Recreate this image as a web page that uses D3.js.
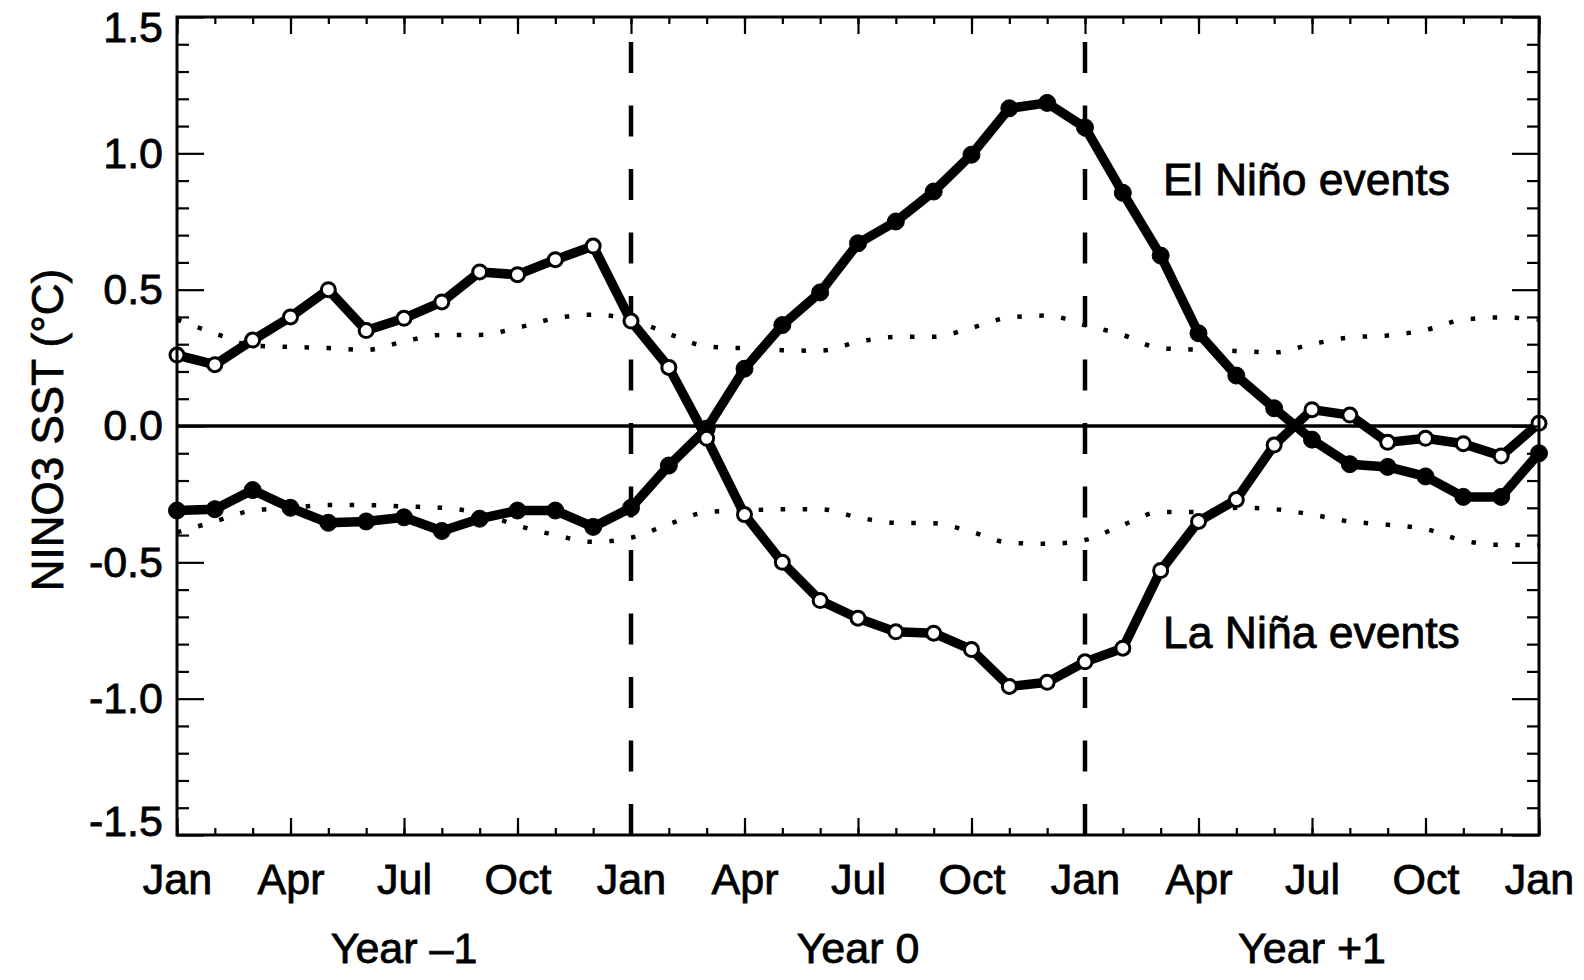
<!DOCTYPE html>
<html>
<head>
<meta charset="utf-8">
<script src="https://cdn.jsdelivr.net/npm/d3@7"></script>
<style>
  body { margin: 0; background: #fff; }
  svg { display: block; }
  text { font-family: "Liberation Sans", Arial, Helvetica, sans-serif; fill: #000; stroke: #000; stroke-width: 0.8px; }
</style>
</head>
<body>
<svg id="chart" width="1584" height="980"></svg>
<script>
// Composite NINO3 SST anomaly (°C) for months Jan Year -1 .. Jan Year +2
const months = d3.range(37);
const seasonTicks = d3.range(0, 37, 3);
const seasonLabels = ["Jan","Apr","Jul","Oct","Jan","Apr","Jul","Oct","Jan","Apr","Jul","Oct","Jan"];
const yearLabels = ["Year \u20131", "Year 0", "Year +1"];
const yearCentres = [6, 18, 30];
const yearBounds = [12, 24];
const yMajor = [-1.5, -1.0, -0.5, 0.0, 0.5, 1.0, 1.5];
const yMajorLabels = ["-1.5", "-1.0", "-0.5", "0.0", "0.5", "1.0", "1.5"];
const yMinor = d3.range(-15, 16).filter(d => d % 5 !== 0).map(d => d / 10);

const elNino = [-0.31, -0.305, -0.235, -0.30, -0.355, -0.35, -0.335, -0.385, -0.34, -0.31,
  -0.31, -0.37, -0.30, -0.145, -0.01, 0.21, 0.37, 0.49, 0.67, 0.75,
  0.86, 0.995, 1.165, 1.185, 1.095, 0.855, 0.625, 0.34, 0.185, 0.065,
  -0.05, -0.14, -0.15, -0.185, -0.26, -0.26, -0.10];
const laNina = [0.26, 0.225, 0.315, 0.40, 0.50, 0.35, 0.395, 0.455, 0.565, 0.555,
  0.61, 0.66, 0.385, 0.215, -0.045, -0.325, -0.50, -0.64, -0.705, -0.755,
  -0.76, -0.82, -0.955, -0.94, -0.865, -0.815, -0.53, -0.35, -0.27, -0.07,
  0.06, 0.04, -0.06, -0.045, -0.065, -0.11, 0.01];
// significance bounds
const upperBand = [0.39, 0.34, 0.295, 0.29, 0.286, 0.279, 0.31, 0.334, 0.334, 0.36,
  0.395, 0.408, 0.39, 0.338, 0.292, 0.285, 0.278, 0.276, 0.308, 0.327,
  0.327, 0.36, 0.398, 0.405, 0.37, 0.334, 0.285, 0.28, 0.275, 0.27,
  0.30, 0.325, 0.332, 0.352, 0.39, 0.398, 0.39];
const lowerBand = [-0.39, -0.35, -0.31, -0.30, -0.29, -0.29, -0.295, -0.30, -0.32, -0.365,
  -0.40, -0.425, -0.41, -0.36, -0.316, -0.31, -0.305, -0.305, -0.335, -0.355,
  -0.357, -0.388, -0.428, -0.432, -0.418, -0.363, -0.315, -0.315, -0.30, -0.305,
  -0.325, -0.35, -0.362, -0.378, -0.42, -0.436, -0.436];

const W = 1584, H = 980;
const m = { left: 177, top: 17, right: 45, bottom: 145 };
const x = d3.scaleLinear().domain([0, 36]).range([m.left, W - m.right]);
const y = d3.scaleLinear().domain([-1.5, 1.5]).range([H - m.bottom, m.top]);

const svg = d3.select("#chart");
const FS = 43;

// zero line
svg.append("line")
  .attr("x1", x(0)).attr("x2", x(36))
  .attr("y1", y(0)).attr("y2", y(0))
  .attr("stroke", "#000").attr("stroke-width", 3.5);

// year boundaries
svg.selectAll("line.year").data(yearBounds).enter().append("line")
  .attr("class", "year")
  .attr("x1", d => x(d)).attr("x2", d => x(d))
  .attr("y1", y(-1.5)).attr("y2", y(1.5))
  .attr("stroke", "#000").attr("stroke-width", 4.5)
  .attr("stroke-dasharray", "31 32.5");

// dotted significance curves
const bandLine = d3.line().x((d, i) => x(i)).y(d => y(d)).curve(d3.curveMonotoneX);
[upperBand, lowerBand].forEach(b => {
  svg.append("path").datum(b)
    .attr("d", bandLine)
    .attr("fill", "none").attr("stroke", "#000")
    .attr("stroke-width", 4.5).attr("stroke-dasharray", "4.5 17.5");
});

// composite series
const seriesLine = d3.line().x((d, i) => x(i)).y(d => y(d));
function drawSeries(vals, filled) {
  svg.append("path").datum(vals)
    .attr("d", seriesLine)
    .attr("fill", "none").attr("stroke", "#000")
    .attr("stroke-width", 9.5).attr("stroke-linejoin", "round");
  svg.append("g").selectAll("circle").data(vals).enter().append("circle")
    .attr("cx", (d, i) => x(i)).attr("cy", d => y(d))
    .attr("r", filled ? 8.5 : 7)
    .attr("fill", filled ? "#000" : "#fff")
    .attr("stroke", "#000").attr("stroke-width", filled ? 1 : 3);
}
drawSeries(elNino, true);
drawSeries(laNina, false);

// axes: inward ticks on all four sides
function styleAxis(g) {
  g.select(".domain").remove();
  g.selectAll(".tick line").attr("stroke", "#000").attr("stroke-width", 2.2);
  g.selectAll("text").attr("font-size", FS).style("font-family", "'Liberation Sans', Arial, sans-serif");
}
const bottomY = y(-1.5), topY = y(1.5), leftX = x(0), rightX = x(36);

svg.append("g").attr("transform", `translate(0,${bottomY})`)
  .call(d3.axisBottom(x).tickValues(months).tickSize(-7).tickFormat(""))
  .call(styleAxis);
svg.append("g").attr("transform", `translate(0,${bottomY})`)
  .call(d3.axisBottom(x).tickValues(seasonTicks).tickSize(-17).tickPadding(28)
    .tickFormat((d, i) => seasonLabels[i]))
  .call(styleAxis);
svg.append("g").attr("transform", `translate(0,${topY})`)
  .call(d3.axisTop(x).tickValues(months).tickSize(-7).tickFormat(""))
  .call(styleAxis);
svg.append("g").attr("transform", `translate(0,${topY})`)
  .call(d3.axisTop(x).tickValues(seasonTicks).tickSize(-17).tickFormat(""))
  .call(styleAxis);

svg.append("g").attr("transform", `translate(${leftX},0)`)
  .call(d3.axisLeft(y).tickValues(yMinor).tickSize(-12).tickFormat(""))
  .call(styleAxis);
const yLabelAxis = svg.append("g").attr("transform", `translate(${leftX},0)`)
  .call(d3.axisLeft(y).tickValues(yMajor).tickSize(-27).tickPadding(14)
    .tickFormat((d, i) => yMajorLabels[i]))
  .call(styleAxis);
// end labels sit just inside the frame
yLabelAxis.selectAll(".tick text")
  .attr("dy", d => d === 1.5 ? "0.58em" : d === -1.5 ? "0.02em" : "0.32em");
svg.append("g").attr("transform", `translate(${rightX},0)`)
  .call(d3.axisRight(y).tickValues(yMinor).tickSize(-12).tickFormat(""))
  .call(styleAxis);
svg.append("g").attr("transform", `translate(${rightX},0)`)
  .call(d3.axisRight(y).tickValues(yMajor).tickSize(-27).tickFormat(""))
  .call(styleAxis);

// frame
svg.append("rect")
  .attr("x", leftX).attr("y", topY)
  .attr("width", rightX - leftX).attr("height", bottomY - topY)
  .attr("fill", "none").attr("stroke", "#000").attr("stroke-width", 3);

// year captions
svg.selectAll("text.yr").data(yearLabels).enter().append("text")
  .attr("class", "yr")
  .attr("x", (d, i) => x(yearCentres[i])).attr("y", 963)
  .attr("text-anchor", "middle").attr("font-size", FS)
  .text(d => d);

// y axis title
svg.append("text")
  .attr("transform", `translate(63,${(topY + bottomY) / 2 + 4}) rotate(-90)`)
  .attr("text-anchor", "middle").attr("font-size", 44)
  .text("NINO3 SST (\u00B0C)");

// series annotations
svg.append("text").attr("x", 1163).attr("y", 195).attr("font-size", 44.5).text("El Ni\u00F1o events");
svg.append("text").attr("x", 1163).attr("y", 648).attr("font-size", 44.5).text("La Ni\u00F1a events");
</script>
</body>
</html>
